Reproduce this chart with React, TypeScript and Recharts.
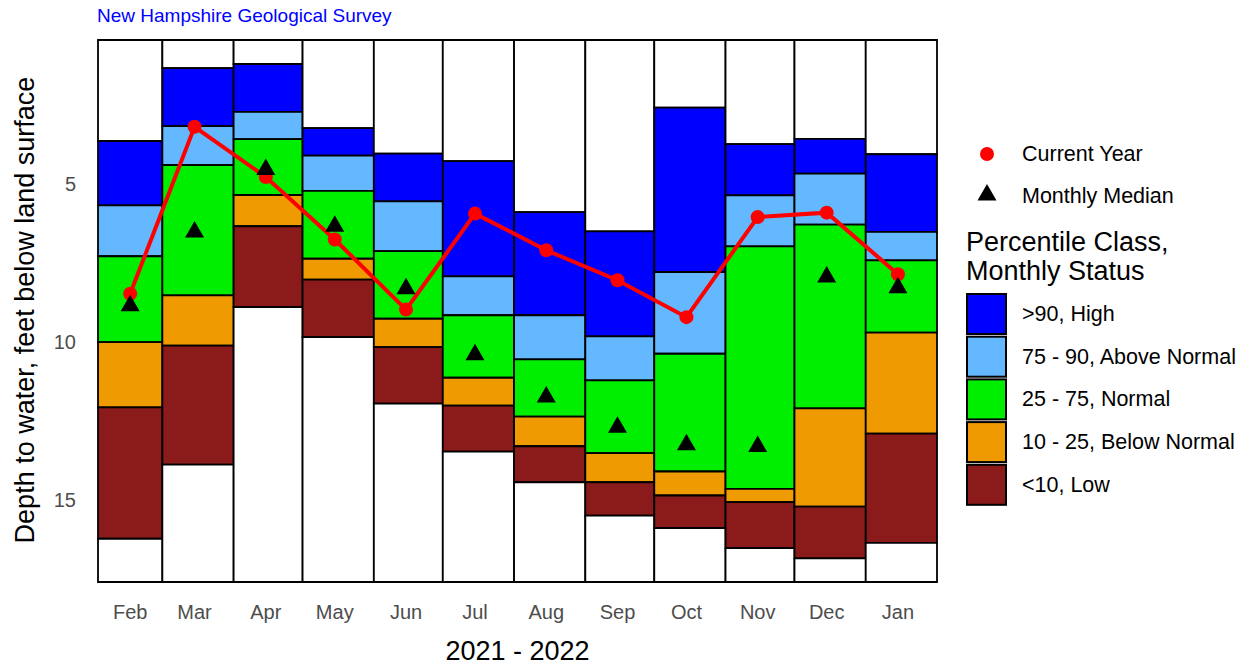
import { ComposedChart, XAxis, YAxis, Line, Scatter, ReferenceArea } from "recharts";

const months = ["Feb", "Mar", "Apr", "May", "Jun", "Jul", "Aug", "Sep", "Oct", "Nov", "Dec", "Jan"];
const monthDays = [28, 31, 30, 31, 30, 31, 31, 30, 31, 30, 31, 31];
// values are plotted on the 15th of each month
const markDay = 14;

// depth to water, feet below land surface
const currentYear = [8.47, 3.18, 4.77, 6.75, 8.97, 5.93, 7.09, 8.04, 9.21, 6.04, 5.9, 7.85];
const monthlyMedian = [8.85, 6.51, 4.53, 6.33, 8.31, 10.4, 11.74, 12.7, 13.25, 13.31, 7.94, 8.28];

// percentile class boundaries per month (shallow -> deep)
const recordHigh = [3.63, 1.32, 1.19, 3.22, 4.03, 4.27, 5.88, 6.49, 2.57, 3.73, 3.56, 4.05];
const p90 = [5.67, 3.16, 2.71, 4.09, 5.54, 7.92, 9.15, 9.82, 7.78, 5.35, 4.66, 6.51];
const p75 = [7.28, 4.39, 3.57, 5.21, 7.12, 9.15, 10.55, 11.21, 10.37, 6.97, 6.28, 7.41];
const p25 = [10.0, 8.52, 5.34, 7.36, 9.26, 11.13, 12.36, 13.52, 14.1, 14.65, 12.1, 9.7];
const p10 = [12.07, 10.11, 6.33, 8.02, 10.16, 12.01, 13.3, 14.44, 14.86, 15.07, 15.21, 12.9];
const recordLow = [16.23, 13.88, 8.89, 9.84, 11.95, 13.47, 14.44, 15.5, 15.89, 16.53, 16.85, 16.36];

const yTicks = [5, 10, 15];
const yDomain: [number, number] = [0.43, 17.6];

const classes = [
  { label: ">90, High", color: "#0000FF" },
  { label: "75 - 90, Above Normal", color: "#63B8FF" },
  { label: "25 - 75, Normal", color: "#00EE00" },
  { label: "10 - 25, Below Normal", color: "#EE9A00" },
  { label: "<10, Low", color: "#8B1A1A" },
];

const totalDays = monthDays.reduce((a, b) => a + b, 0);
const starts = monthDays.map((_, i) => monthDays.slice(0, i).reduce((a, b) => a + b, 0));

const rows = months.map((m, i) => ({
  month: m,
  x0: starts[i],
  x1: starts[i] + monthDays[i],
  mid: starts[i] + markDay,
  current: currentYear[i],
  median: monthlyMedian[i],
}));

function bandsFor(i: number) {
  const edges = [yDomain[0], recordHigh[i], p90[i], p75[i], p25[i], p10[i], recordLow[i], yDomain[1]];
  const fills = ["#FFFFFF", ...classes.map((c) => c.color), "#FFFFFF"];
  return fills.map((fill, k) => ({ y1: edges[k], y2: edges[k + 1], fill }));
}

const Triangle = (props: any) => {
  const { cx, cy } = props;
  const s = 19;
  const h = (s * Math.sqrt(3)) / 2;
  return (
    <polygon
      points={`${cx},${cy - (2 * h) / 3} ${cx + s / 2},${cy + h / 3} ${cx - s / 2},${cy + h / 3}`}
      fill="#000"
    />
  );
};

const font = "'Liberation Sans', Arial, sans-serif";

export default function App() {
  return (
    <div style={{ position: "relative", width: 1251, height: 666, fontFamily: font, background: "#fff" }}>
      <style>{`body{margin:0}`}</style>
      <ComposedChart
        width={1251}
        height={666}
        data={rows}
        margin={{ top: 40, right: 314, bottom: 0, left: 0 }}
      >
        <XAxis
          type="number"
          dataKey="mid"
          domain={[0, totalDays]}
          ticks={rows.map((r) => r.mid)}
          tickFormatter={(v) => rows.find((r) => r.mid === v)?.month ?? ""}
          interval={0}
          allowDataOverflow
          axisLine={false}
          tickLine={false}
          tickSize={0}
          tickMargin={23}
          height={84}
          tick={{ fill: "#4d4d4d", fontSize: 20 }}
        />
        <YAxis
          type="number"
          reversed
          domain={yDomain}
          ticks={yTicks}
          allowDataOverflow
          width={98}
          axisLine={false}
          tickLine={false}
          tickSize={0}
          tickMargin={22}
          tick={{ fill: "#4d4d4d", fontSize: 20 }}
        />
        {rows.map((r, i) =>
          bandsFor(i).map((b, k) => (
            <ReferenceArea
              key={`${r.month}-${k}`}
              x1={r.x0}
              x2={r.x1}
              y1={b.y1}
              y2={b.y2}
              fill={b.fill}
              fillOpacity={1}
              stroke="#000"
              strokeWidth={1.8}
              ifOverflow="visible"
            />
          ))
        )}
        <Line
          dataKey="current"
          stroke="#FF0000"
          strokeWidth={4}
          dot={{ r: 7, fill: "#FF0000", stroke: "none" }}
          activeDot={false}
          isAnimationActive={false}
        />
        <Scatter data={rows} dataKey="median" shape={Triangle} isAnimationActive={false} />
      </ComposedChart>
      <svg
        width={1251}
        height={666}
        style={{ position: "absolute", left: 0, top: 0, pointerEvents: "none", fontFamily: font }}
      >
        <text x={97} y={22} fontSize={19} fill="#0000FF">
          New Hampshire Geological Survey
        </text>
        <text x={33.5} y={310} fontSize={27} fill="#000" textAnchor="middle" transform="rotate(-90 33.5 310)">
          Depth to water, feet below land surface
        </text>
        <text x={517.5} y={660} fontSize={27} fill="#000" textAnchor="middle">
          2021 - 2022
        </text>
        <circle cx={987} cy={154} r={7} fill="#FF0000" />
        <text x={1022} y={154} fontSize={21.5} fill="#000" dominantBaseline="central">
          Current Year
        </text>
        <polygon points="987,184 996.5,200.5 977.5,200.5" fill="#000" />
        <text x={1022} y={196} fontSize={21.5} fill="#000" dominantBaseline="central">
          Monthly Median
        </text>
        <text x={966} y={242} fontSize={27} fill="#000" dominantBaseline="central">
          Percentile Class,
        </text>
        <text x={966} y={271} fontSize={27} fill="#000" dominantBaseline="central">
          Monthly Status
        </text>
        {classes.map((c, i) => (
          <g key={c.label}>
            <rect x={967} y={294 + i * 42.7} width={39} height={40} fill={c.color} stroke="#000" strokeWidth={2} />
            <text x={1022} y={314 + i * 42.7} fontSize={21.5} fill="#000" dominantBaseline="central">
              {c.label}
            </text>
          </g>
        ))}
      </svg>
    </div>
  );
}
